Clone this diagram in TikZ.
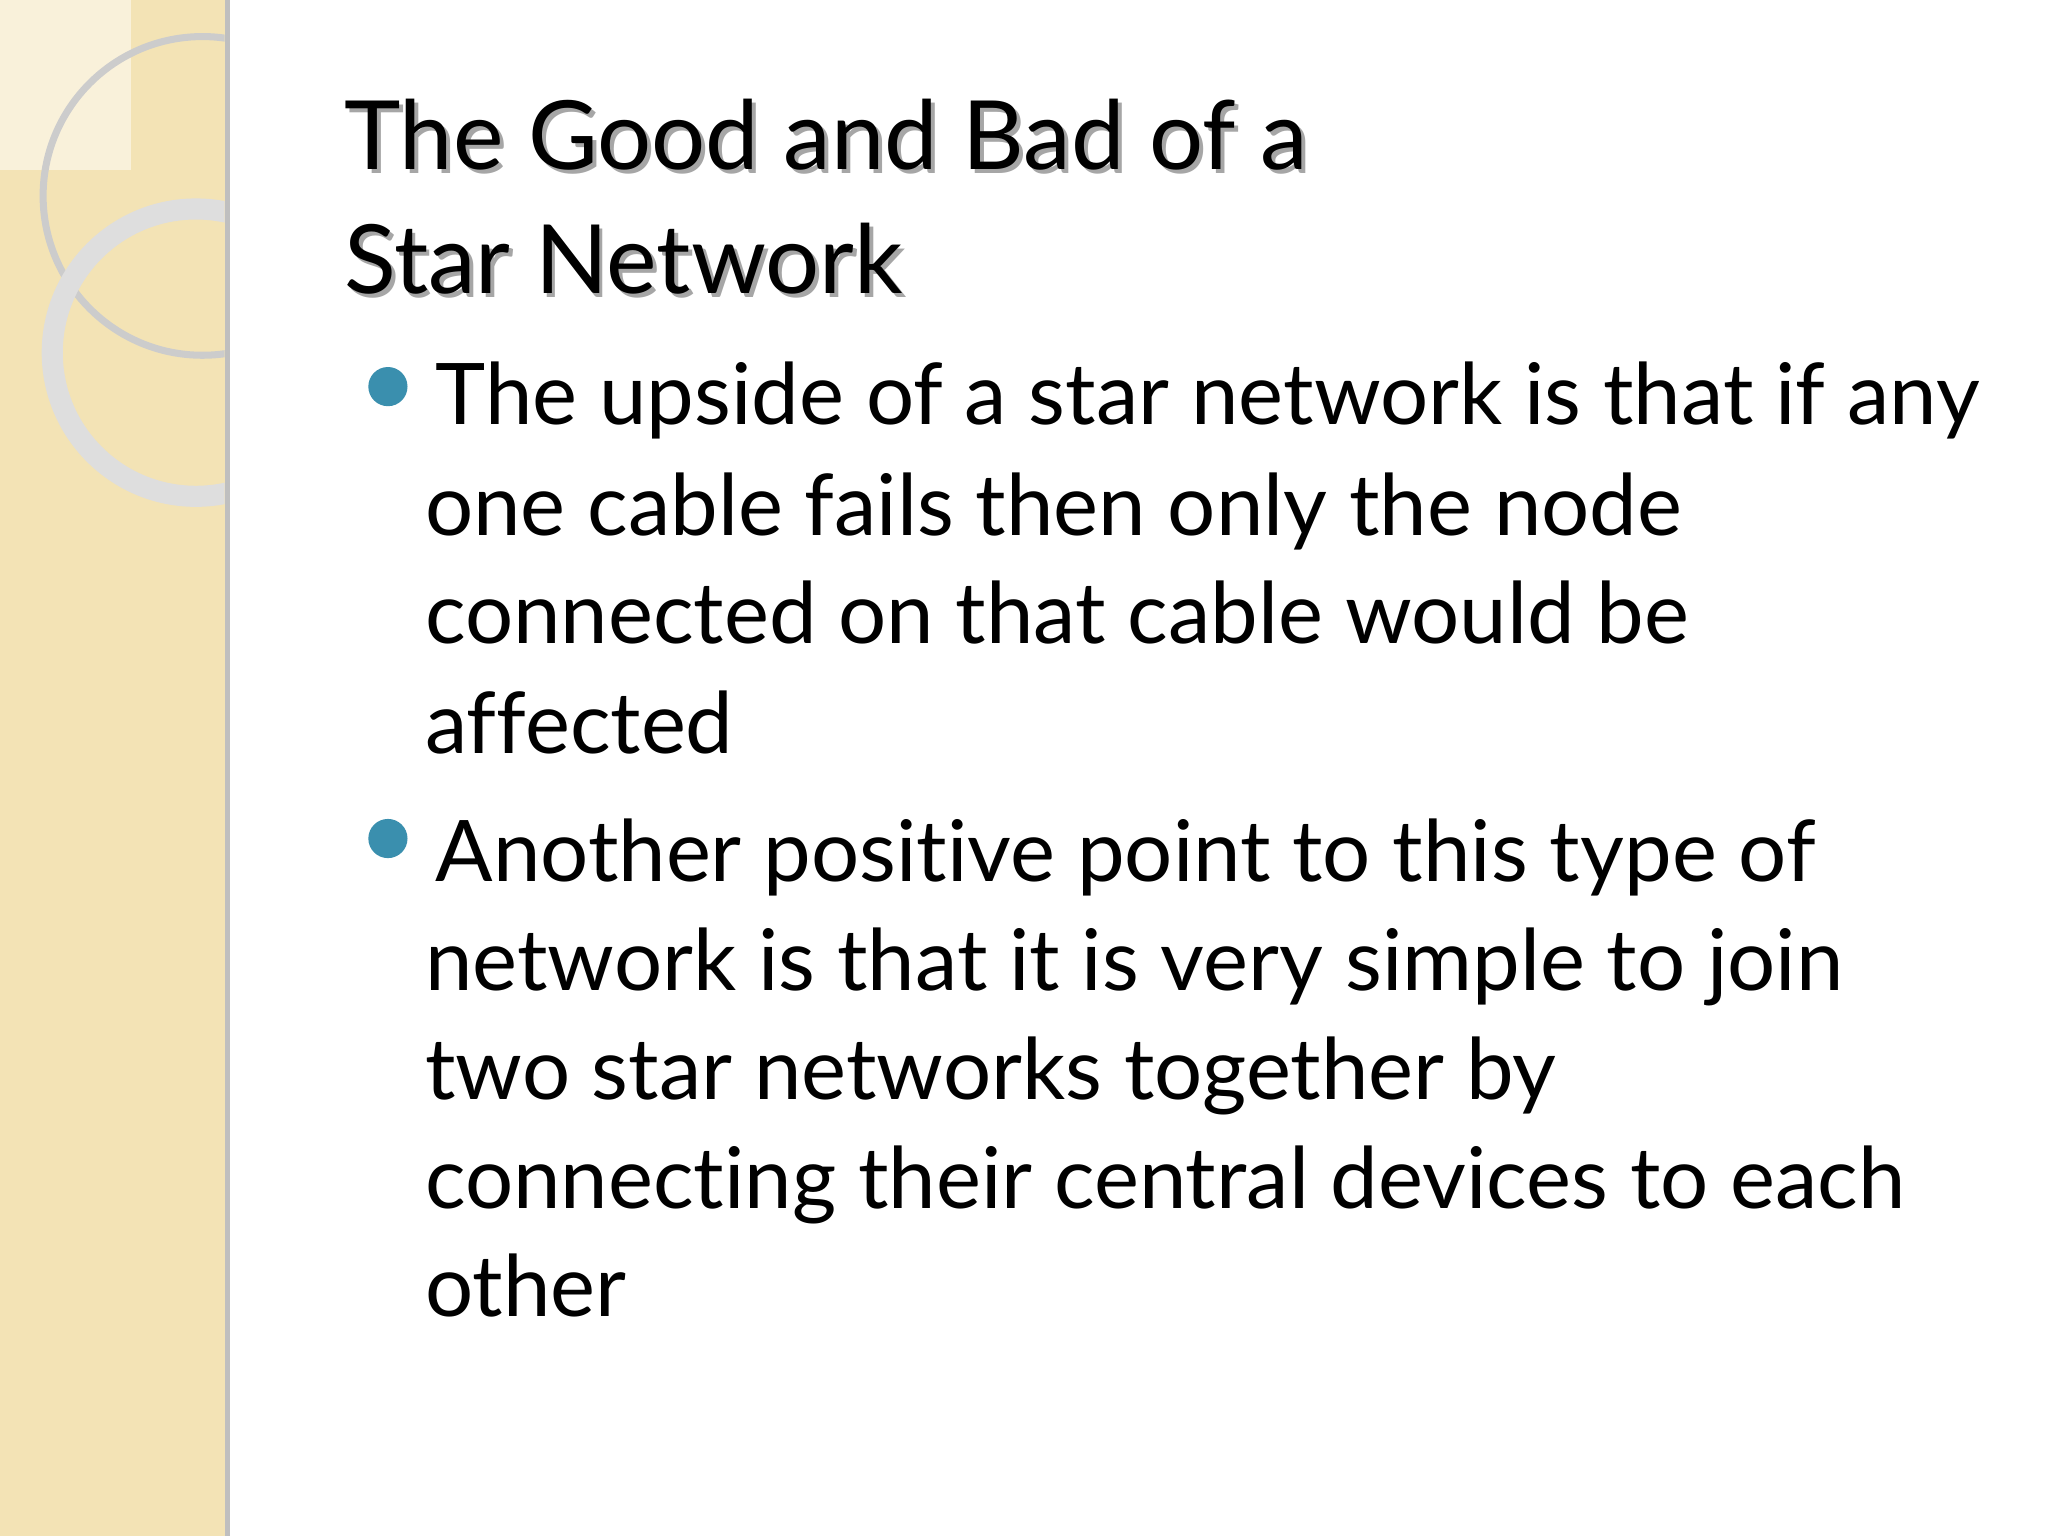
\documentclass[tikz,border=0pt]{standalone}
\usepackage{fontspec}
\setmainfont{Lato}[Ligatures={NoCommon,NoRequired,NoContextual}]
\definecolor{beige}{HTML}{F3E3B5}
\definecolor{bul}{HTML}{3A8FAE}
\begin{document}
\begin{tikzpicture}[x=0.013061cm,y=-0.013061cm,
  body/.style={anchor=base west,inner sep=0,font=\fontsize{24.2}{28}\selectfont},
  ttl/.style={anchor=base west,inner sep=0,font=\fontsize{27.2}{30}\selectfont}]
\useasboundingbox (0,0) rectangle (1568,1176);
\fill[white] (0,0) rectangle (1568,1176);
\fill[beige] (0,0) rectangle (172,1176);
\fill[beige!50!white] (0,0) rectangle (100,130);
\fill[black!25] (172,0) rectangle (176,1176);
\begin{scope}
\clip (0,0) rectangle (172,1176);
\draw[black!20,line width=2pt] (155,150) circle (122);
\draw[black!13,line width=6pt] (150,270) circle (110);
\end{scope}
\foreach \t/\y [count=\i] in {{The Good and Bad of a}/130,{Star Network}/225}{
  \node[ttl,text=black!35] at (266,\y+3) {\t};
  \node[ttl] (t\i) at (263,\y) {\t};
}
\fill[bul] (297,296) circle (15);
\fill[bul] (297,642) circle (15);
\node[body] (a1) at (333,325) {The upside of a star network is that if any};
\node[body] (a2) at (325,410) {one cable fails then only the node};
\node[body] (a3) at (325,493) {connected on that cable would be};
\node[body] (a4) at (325,577) {affected};
\node[body] (b1) at (333,675) {Another positive point to this type of};
\node[body] (b2) at (325,758) {network is that it is very simple to join};
\node[body] (b3) at (325,842) {two star networks together by};
\node[body] (b4) at (325,925) {connecting their central devices to each};
\node[body] (b5) at (325,1008) {other};
\end{tikzpicture}
\end{document}
